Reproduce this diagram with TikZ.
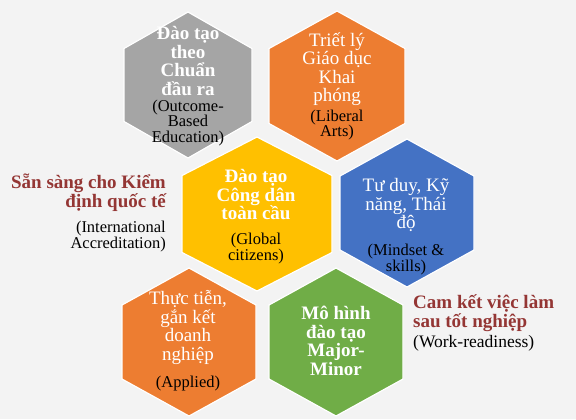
\documentclass[tikz,border=0pt]{standalone}
\usepackage{fontspec}
\setmainfont{Liberation Serif}
\usepackage{xcolor}
\definecolor{paper}{HTML}{F3F3F3}
\definecolor{hexgray}{HTML}{A5A5A5}
\definecolor{hexorange}{HTML}{ED7D31}
\definecolor{hexyellow}{HTML}{FFC000}
\definecolor{hexblue}{HTML}{4472C4}
\definecolor{hexgreen}{HTML}{70AD47}
\definecolor{headred}{HTML}{943634}
\tikzset{
  hexcell/.style={draw=white,line width=1.2pt,line join=miter},
  hextitle/.style={text=white,align=center,inner sep=0pt,
                   font=\fontsize{19bp}{18.5bp}\selectfont},
  hextitlebf/.style={hextitle,font=\bfseries\fontsize{19bp}{18.5bp}\selectfont},
  hexsub/.style={text=black,align=center,inner sep=0pt,
                 font=\fontsize{16.5bp}{15.5bp}\selectfont},
  sidehead/.style={text=headred,inner sep=0pt,
                   font=\bfseries\fontsize{19bp}{19bp}\selectfont},
  sidesub/.style={text=black,inner sep=0pt,
                  font=\fontsize{16.5bp}{16bp}\selectfont}
}
\begin{document}
\begin{tikzpicture}[x=1bp,y=-1bp]
  \path[use as bounding box,fill=paper] (0,0) rectangle (576,419);
  % hexagon cells: centre, half width, radius, colour
  \foreach \cx/\cy/\hw/\hr/\col in {188/85/64/73/hexgray,337/86/68/75/hexorange,
      257/214/75/77/hexyellow,407/213/67/74/hexblue,
      189/342/67/74/hexorange,336/342/67/74/hexgreen}{
    \filldraw[hexcell,fill=\col] (\cx,{\cy-\hr}) -- ({\cx+\hw},{\cy-\hr/2})
      -- ({\cx+\hw},{\cy+\hr/2}) -- (\cx,{\cy+\hr}) -- ({\cx-\hw},{\cy+\hr/2})
      -- ({\cx-\hw},{\cy-\hr/2}) -- cycle;
  }
  \node[hextitlebf] (outcome) at (188,61) {Đào tạo\\theo\\Chuẩn\\đầu ra};
  \node[hexsub] (outcomesub) at (188,123) {(Outcome-\\Based\\Education)};
  \node[hextitle] (liberal) at (337,69) {Triết lý\\Giáo dục\\Khai\\phóng};
  \node[hexsub] (liberalsub) at (337,125) {(Liberal\\Arts)};
  \node[hextitlebf] (global) at (256,195) {Đào tạo\\Công dân\\toàn cầu};
  \node[hexsub] (globalsub) at (256,248.5) {(Global\\citizens)};
  \node[hextitle] (mindset) at (406,205) {Tư duy, Kỹ\\năng, Thái\\độ};
  \node[hexsub] (mindsetsub) at (406,259.5) {(Mindset \&\\skills)};
  \node[hextitle] (applied) at (188,327.5) {Thực tiễn,\\gắn kết\\doanh\\nghiệp};
  \node[hexsub] (appliedsub) at (188,384) {(Applied)};
  \node[hextitlebf] (majorminor) at (336,341) {Mô hình\\đào tạo\\Major-\\Minor};
  % side captions
  \node[sidehead,align=right,anchor=east] (accred) at (166,193)
    {Sẵn sàng cho Kiểm\\định quốc tế};
  \node[sidesub,align=right,anchor=east] (accredsub) at (166,237)
    {(International\\Accreditation)};
  \node[sidehead,align=left,anchor=west] (workready) at (413,313.5)
    {Cam kết việc làm\\sau tốt nghiệp};
  \node[sidesub,align=left,anchor=west,font=\fontsize{17.5bp}{17bp}\selectfont]
    (workreadysub) at (413,343) {(Work-readiness)};
\end{tikzpicture}
\end{document}
